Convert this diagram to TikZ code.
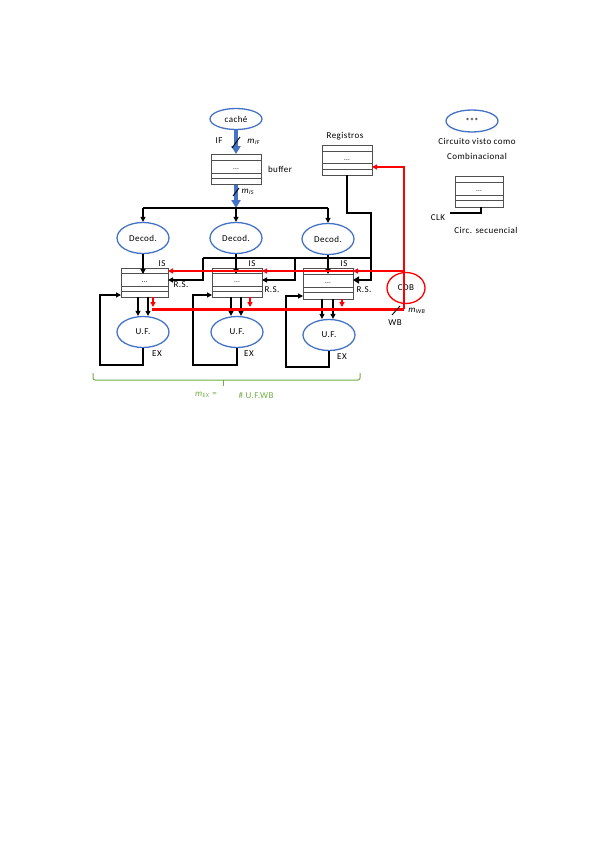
\documentclass[tikz,border=0pt]{standalone}
\usepackage{fontspec}
\setmainfont{Carlito}[LetterSpace=5.0]
\usetikzlibrary{arrows.meta,shapes.geometric,calc}
\definecolor{ofblue}{RGB}{68,114,196}
\definecolor{ofgreen}{RGB}{112,173,71}
\definecolor{boxgray}{RGB}{80,80,80}
\tikzset{
  lbl/.style={font=\fontsize{9}{10}\selectfont, inner sep=0pt},
  oval/.style={ellipse, draw=ofblue, line width=1.3pt, minimum width=52pt, minimum height=31pt, inner sep=0pt, font=\fontsize{9}{10}\selectfont},
  regbox/.style={draw=boxgray, line width=0.9pt, minimum width=50pt, minimum height=30pt, inner sep=0pt, font=\fontsize{7}{8}\selectfont,
    path picture={
      \foreach \f in {0.2,0.63,0.8}
        \draw[boxgray, line width=0.9pt] ($(path picture bounding box.north west)!\f!(path picture bounding box.south west)$) -- ($(path picture bounding box.north east)!\f!(path picture bounding box.south east)$);
    }},
  arr/.style={-{Triangle[length=5pt,width=5pt]}},
  blk/.style={black, line width=1.1pt},
  thickblk/.style={black, line width=2.6pt},
  bluearr/.style={ofblue, line width=3.4pt, -{Triangle[length=8pt,width=9pt]}},
  redl/.style={red, line width=1.2pt},
  thickred/.style={red, line width=3pt},
  slash/.style={black, line width=0.9pt},
}
\begin{document}
\begin{tikzpicture}[x=1pt,y=-1pt]
\useasboundingbox[fill=white] (0,0) rectangle (599,848);

% ---- top: cache and buffer
\node[oval, minimum height=21pt] (cache) at (236,119) {caché};
\node[regbox] (buffer) at (236,169.5) {...};
\node[lbl] (bufferlbl) at (280,169) {buffer};
\draw[bluearr] (cache.south) -- (buffer.north);
\draw[slash] (232,148) -- (240,137);
\node[lbl] (iflbl) at (219,141) {IF};
\node[lbl] (miflbl) at (254,142) {\textit{m}\textsubscript{\textit{IF}}};

\coordinate (dM) at (236,208);
\coordinate (dL) at (143,208);
\coordinate (dR) at (328,208);
\draw[bluearr] (buffer.south) -- (dM);
\draw[slash] (233,196) -- (239,188);
\node[lbl] (mislbl) at (248,192) {\textit{m}\textsubscript{\textit{IS}}};

% ---- registers
\node[lbl] (reglbl) at (345,136) {Registros};
\node[regbox] (reg) at (347,160) {...};

% ---- legend
\node[oval, minimum height=22pt] (legoval) at (472,121) {\addfontfeature{LetterSpace=0}***};
\node[lbl] (leg1) at (477,141) {Circuito visto como};
\node[lbl] (leg2) at (477,156) {Combinacional};
\node[regbox, minimum width=48pt, minimum height=31pt] (legbox) at (479,191.5) {...};
\coordinate (clkc) at (481,213);
\coordinate (clkl) at (450,213);
\draw[thickblk, line width=1.8pt] (legbox.south -| clkc) -- (clkc) -- (clkl);
\node[lbl] (clklbl) at (438,218) {CLK};
\node[lbl] (leg3) at (486,230) {Circ. secuencial};

% ---- decoders
\node[oval] (dec1) at (143,238) {Decod.};
\node[oval] (dec2) at (236,238) {Decod.};
\node[oval] (dec3) at (328,239) {Decod.};
\draw[blk] (dL) -- (dR);
\draw[blk,arr] (dL) -- (dec1.north);
\draw[blk,arr] (dM) -- (dec2.north);
\draw[blk,arr] (dR) -- (dec3.north);

% ---- reservation stations
\node[regbox, minimum width=47pt, minimum height=29pt] (rs1) at (144.5,282.5) {...};
\node[regbox, minimum height=29pt] (rs2) at (237,282.5) {...};
\node[regbox, minimum height=31pt] (rs3) at (328,283.5) {...};
\node[lbl] (is1) at (162,264) {IS};
\node[lbl] (is2) at (252,264) {IS};
\node[lbl] (is3) at (344,264) {IS};
\node[lbl] (rsl1) at (181,285) {R.S.};
\node[lbl] (rsl2) at (272,290) {R.S.};
\node[lbl] (rsl3) at (364,290) {R.S.};

\coordinate (d1in) at (143,274);
\coordinate (d2in) at (236,274);
\coordinate (d3in) at (328,274);
\draw[blk,arr] (dec1.south) -- (d1in);
\draw[blk,arr] (dec2.south) -- (d2in);
\draw[blk,arr] (dec3.south) -- (d3in);

% registers -> RS
\coordinate (rA) at (347,213);
\coordinate (rB) at (371,213);
\coordinate (rC) at (371,280);
\coordinate (r3in) at (353,280);
\draw[thickblk, -{Triangle[length=6pt,width=7pt]}] (reg.south) -- (rA) -- (rB) -- (rC) -- (r3in);
\coordinate (bT) at (371,258);
\coordinate (b2) at (295,258);
\coordinate (b1) at (203,258);
\coordinate (b2d) at (295,280);
\coordinate (b1d) at (203,280);
\coordinate (r2in) at (262,280);
\coordinate (r1in) at (168,280);
\draw[blk] (bT) -- (b1);
\draw[blk,arr] (b2) -- (b2d) -- (r2in);
\draw[blk,arr] (b1) -- (b1d) -- (r1in);

% ---- functional units
\node[oval] (uf1) at (143,332) {U.F.};
\node[oval] (uf2) at (237,332) {U.F.};
\node[oval] (uf3) at (329,335) {U.F.};
\foreach \r/\u/\a/\b in {rs1/uf1/138/148, rs2/uf2/231/241, rs3/uf3/322/333}{
  \draw[blk,arr] (\r.south -| \a,0) -- (\u.north -| \a,0);
  \draw[blk,arr] (\r.south -| \b,0) -- (\u.north -| \b,0);
}
\node[lbl] (ex1) at (157,354) {EX};
\node[lbl] (ex2) at (249,354) {EX};
\node[lbl] (ex3) at (342,357) {EX};

% feedback loops
\coordinate (l1a) at (143,365); \coordinate (l1b) at (100,365); \coordinate (l1c) at (100,295); \coordinate (l1d) at (121,295);
\coordinate (l2a) at (237,365); \coordinate (l2b) at (193,365); \coordinate (l2c) at (193,295); \coordinate (l2d) at (212,295);
\coordinate (l3a) at (329,367); \coordinate (l3b) at (286,367); \coordinate (l3c) at (286,296); \coordinate (l3d) at (303,296);
\draw[blk,arr] (uf1.south) -- (l1a) -- (l1b) -- (l1c) -- (l1d);
\draw[blk,arr] (uf2.south) -- (l2a) -- (l2b) -- (l2c) -- (l2d);
\draw[blk,arr] (uf3.south) -- (l3a) -- (l3b) -- (l3c) -- (l3d);

% ---- CDB
\node[ellipse, draw=red, line width=1.3pt, minimum width=38pt, minimum height=31pt, inner sep=0pt, font=\fontsize{9}{10}\selectfont] (cdb) at (406,288) {CDB};
\coordinate (cT) at (404,167);
\coordinate (cM) at (404,271);
\coordinate (cB) at (404,309);
\coordinate (regin) at (372,167);
\draw[redl,arr] (cB) -- (cT) -- (regin);
\coordinate (i3) at (353,271);
\coordinate (i2) at (262,271);
\coordinate (i1) at (168,271);
\draw[redl,arr] (cM) -- (i3);
\draw[redl,arr] (i3) -- (i2);
\draw[redl,arr] (i2) -- (i1);
\coordinate (bus1) at (152,309);
\draw[thickred] (bus1) -- (cB);
\foreach \r/\x in {rs1/153, rs2/250, rs3/342}{
  \draw[redl,arr] (\r.south -| \x,0) -- (\x,307);
}
\draw[slash] (392,315) -- (400,306);
\node[lbl] (mwb) at (417,311) {\textit{m}\textsubscript{\textit{WB}}};
\node[lbl] (wb) at (395,323) {WB};

% ---- green brace
\coordinate (gL) at (93,373);
\coordinate (gR) at (360,373);
\coordinate (gM) at (223,386);
\draw[ofgreen, line width=1pt, rounded corners=2pt] (gL) -- (93,380) -- (360,380) -- (gR);
\draw[ofgreen, line width=1pt] (223,380) -- (gM);
\node[lbl, text=ofgreen] (mex) at (206,395) {\textit{m}\textsubscript{\textit{EX}} =};
\node[lbl, text=ofgreen] (uwb) at (256,395) {\# U.F.WB};
\end{tikzpicture}
\end{document}
